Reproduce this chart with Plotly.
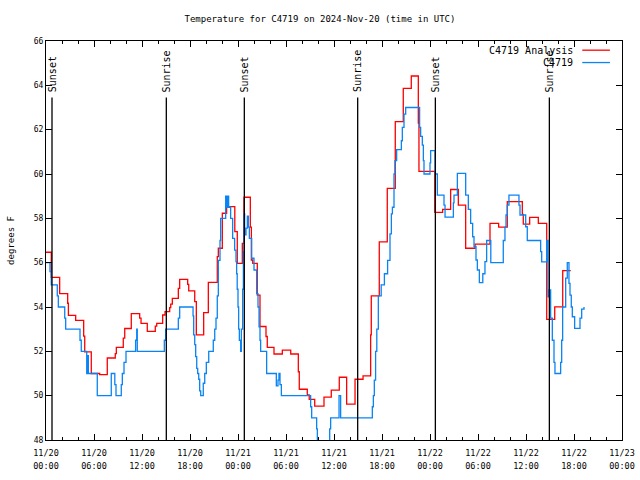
import plotly.graph_objects as go

# Analysis (red) : hours since 2024-11-20 00:00 UTC, degrees F
red_h = [0.0, 0.66, 1.71, 2.71, 2.8, 3.71, 4.71, 4.84, 5.66, 6.71, 7.66, 8.66, 8.79, 9.66, 9.84,
         10.66, 11.71, 11.88, 12.66, 13.66, 13.84, 14.58, 14.88, 15.46, 15.59, 15.79, 16.54, 16.71,
         17.71, 17.84, 18.59, 18.79, 19.71, 20.29, 21.41, 21.54, 22.04, 22.58, 23.6, 23.91, 24.54,
         24.75, 25.54, 25.67, 25.84, 26.41, 26.75, 27.5, 27.66, 28.5, 29.54, 30.59, 31.54, 31.66,
         32.66, 32.9, 33.59, 34.75, 35.66, 36.66, 37.58, 38.63, 39.63, 40.58, 40.66, 41.66, 42.66,
         43.66, 44.66, 45.66, 46.54, 46.62, 48.6, 49.58, 50.58, 51.54, 52.46, 53.63, 55.5, 56.58,
         57.66, 59.54, 59.66, 60.46, 61.54, 62.59, 63.59, 64.59, 65.59]
red_v = [56.47, 55.34, 54.6, 54.17, 53.62, 53.4, 52.69, 51.98, 51.0, 50.95, 51.7, 51.9, 52.18, 52.6,
         53.03, 53.7, 53.5, 53.26, 52.9, 53.14, 53.26, 53.64, 53.79, 53.97, 54.13, 54.39, 54.84,
         55.25, 55.02, 54.73, 54.24, 52.74, 53.75, 55.11, 56.27, 56.65, 58.23, 58.53, 57.4, 55.97,
         56.87, 58.95, 57.6, 56.12, 55.97, 54.54, 53.12, 52.67, 52.18, 51.88, 52.05, 51.88, 51.08,
         50.29, 50.03, 49.83, 49.53, 49.93, 50.25, 50.83, 49.62, 50.74, 50.89, 52.74, 54.5, 56.94,
         59.35, 62.36, 63.86, 64.42, 62.3, 60.12, 58.27, 58.4, 59.3, 58.6, 56.65, 56.84, 57.77, 57.6,
         58.75, 58.18, 57.74, 58.04, 57.77, 53.44, 54.01, 55.64, 55.64]

# Observations (blue)
blue_h = [0.0, 0.5, 0.66, 1.41, 1.54, 2.34, 2.46, 4.25, 4.41, 5.09, 5.2, 5.3, 6.41, 8.16, 8.6, 8.75,
          9.41, 9.54, 9.75, 10.0, 11.2, 11.34, 11.41, 14.79, 14.96, 16.54, 16.71, 18.38, 18.46,
          18.59, 18.71, 18.84, 18.96, 19.09, 19.21, 19.34, 19.66, 19.84, 20.04, 20.34, 20.91, 21.09,
          21.25, 21.41, 21.54, 21.75, 21.83, 22.46, 22.6, 22.7, 22.83, 23.08, 23.33, 23.58, 23.75,
          23.83, 23.9, 24.0, 24.08, 24.17, 24.33, 24.42, 24.58, 24.67, 24.75, 24.83, 25.0, 25.17,
          25.29, 25.42, 25.71, 26.0, 26.33, 26.5, 26.63, 26.75, 26.83, 27.58, 28.79, 29.0, 29.12,
          29.25, 29.42, 33.08, 33.21, 33.83, 33.92, 35.46, 35.58, 36.63, 36.83, 40.79, 40.92, 41.04,
          41.2, 41.35, 41.54, 41.9, 42.3, 42.7, 43.0, 43.17, 43.3, 43.5, 43.62, 43.83, 44.42, 44.54,
          44.75, 44.96, 46.7, 46.83, 47.04, 47.17, 47.25, 48.0, 48.08, 48.63, 48.92, 49.75, 49.88,
          50.92, 51.0, 51.42, 52.46, 52.79, 53.08, 53.33, 53.5, 53.75, 53.92, 54.17, 54.6, 54.87,
          55.08, 55.6, 57.16, 57.37, 57.5, 57.66, 57.87, 59.12, 59.25, 59.96, 60.16, 61.83, 61.96,
          62.58, 62.75, 62.91, 63.08, 63.29, 63.5, 63.62, 64.33, 64.46, 64.58, 64.96, 65.16, 65.37,
          65.5, 65.66, 65.79, 66.08, 66.75, 66.96, 67.25]
blue_v = [56.0, 55.6, 55.0, 54.5, 54.0, 53.5, 53.0, 52.5, 52.0, 51.0, 51.8, 51.0, 50.0, 51.0, 50.5,
          50.0, 50.5, 51.0, 51.5, 52.0, 52.5, 53.0, 52.0, 52.5, 53.0, 53.5, 54.0, 53.6, 52.74, 52.3,
          51.76, 51.23, 51.0, 50.74, 50.22, 50.0, 50.56, 51.0, 51.5, 52.0, 52.5, 53.0, 53.5, 54.5,
          56.1, 57.0, 58.0, 59.0, 58.5, 59.0, 58.5, 58.0, 57.1, 56.57, 56.05, 55.5, 54.8, 54.0, 53.0,
          52.5, 52.0, 53.0, 54.8, 56.5, 58.2, 57.25, 57.56, 58.1, 57.6, 57.1, 56.2, 55.67, 54.6, 54.0,
          53.1, 52.5, 52.0, 51.0, 50.44, 50.7, 51.0, 50.5, 50.0, 49.5, 49.0, 48.5, 47.5, 48.5, 49.0,
          50.0, 49.0, 49.5, 50.0, 50.7, 52.0, 53.0, 54.5, 55.0, 55.5, 56.1, 57.3, 58.2, 58.5, 60.0,
          60.6, 61.1, 61.5, 62.1, 62.7, 63.0, 62.1, 61.7, 61.3, 60.6, 60.0, 60.5, 61.05, 60.0, 59.05,
          58.6, 58.05, 58.7, 59.05, 60.03, 59.05, 58.4, 57.77, 57.17, 56.73, 56.12, 55.67, 55.1, 55.5,
          56.05, 57.0, 56.0, 57.0, 57.6, 58.15, 58.6, 59.05, 58.6, 58.15, 57.62, 57.0, 56.5, 56.04,
          57.0, 54.46, 54.77, 53.5, 52.5, 51.5, 51.0, 51.5, 52.5, 54.0, 55.3, 56.0, 55.07, 54.54,
          54.0, 53.56, 53.04, 53.5, 53.9, 54.0]

# Sun events (hours)
event_h = [0.75, 15.04, 24.79, 38.96, 48.67, 62.92]
event_label = ["Sunset", "Sunrise", "Sunset", "Sunrise", "Sunset", "Sunrise"]

tick_vals = [0, 6, 12, 18, 24, 30, 36, 42, 48, 54, 60, 66, 72]
tick_dates = ["11/20", "11/20", "11/20", "11/20", "11/21", "11/21", "11/21", "11/21",
              "11/22", "11/22", "11/22", "11/22", "11/23"]
tick_times = ["00:00", "06:00", "12:00", "18:00", "00:00", "06:00", "12:00", "18:00",
              "00:00", "06:00", "12:00", "18:00", "00:00"]

MONO = "DejaVu Sans Mono"
RED = "#ff0000"
BLUE = "#0a84f5"

fig = go.Figure()
fig.add_trace(go.Scatter(x=red_h, y=red_v, mode="lines", line=dict(color=RED, width=1.3, shape="hv"),
                         name="C4719 Analysis", showlegend=False, hoverinfo="skip"))
fig.add_trace(go.Scatter(x=blue_h, y=blue_v, mode="lines", line=dict(color=BLUE, width=1.3, shape="hv"),
                         name="C4719", showlegend=False, hoverinfo="skip"))
# helper trace so the second (time-of-day label) axis is drawn
fig.add_trace(go.Scatter(x=[tick_vals[0], tick_vals[-1]], y=[None, None], xaxis="x2", mode="lines",
                         showlegend=False, hoverinfo="skip"))

for h, lab in zip(event_h, event_label):
    fig.add_shape(type="line", xref="x", yref="y", x0=h, x1=h, y0=48, y1=63.45,
                  line=dict(color="black", width=1.3))
    fig.add_annotation(x=h, y=63.6, xref="x", yref="y", text=lab, textangle=-90, showarrow=False,
                       xanchor="center", yanchor="bottom", font=dict(family=MONO, size=10, color="black"))

# legend (gnuplot style: text right-aligned, sample line to the right)
for name, col, yp in [("C4719 Analysis", RED, 0.977), ("C4719", BLUE, 0.946)]:
    fig.add_annotation(x=0.918, y=yp, xref="paper", yref="paper", text=name, showarrow=False,
                       xanchor="right", yanchor="middle", font=dict(family=MONO, size=10, color="black"))
    fig.add_shape(type="line", xref="paper", yref="paper", x0=0.931, x1=0.979, y0=yp, y1=yp,
                  line=dict(color=col, width=1.3))

fig.update_layout(
    width=640, height=480,
    margin=dict(l=46, r=18, t=41, b=40, autoexpand=False),
    paper_bgcolor="white", plot_bgcolor="white",
    title=dict(text="Temperature for C4719 on 2024-Nov-20 (time in UTC)", x=0.5, xanchor="center",
               y=1 - 19 / 480, yanchor="middle", font=dict(family=MONO, size=9, color="black"),
               automargin=False),
    font=dict(family=MONO, size=9, color="black"),
    xaxis=dict(range=[0, 72], tickvals=tick_vals, ticktext=tick_dates, showgrid=False,
               zeroline=False, ticks="inside", ticklen=6, tickcolor="black", showline=True,
               linecolor="black", linewidth=1, mirror="ticks", ticklabelstandoff=5,
               tickfont=dict(family=MONO, size=8.5), automargin=False,
               minor=dict(dtick=2, tick0=0, ticks="inside", ticklen=3, tickcolor="black")),
    xaxis2=dict(overlaying="x", anchor="y", side="bottom", range=[0, 72], tickvals=tick_vals,
                ticktext=tick_times, showgrid=False, zeroline=False, showline=False, ticks="",
                ticklabelstandoff=19, tickfont=dict(family=MONO, size=8.5), automargin=False),
)
fig.update_yaxes(range=[48, 66], dtick=2, tick0=48, showgrid=False, zeroline=False,
                 ticks="inside", ticklen=6, tickcolor="black", showline=True, linecolor="black",
                 linewidth=1, mirror="ticks", tickfont=dict(family=MONO, size=8), automargin=False,
                 title=dict(text="degrees F", font=dict(family=MONO, size=9), standoff=17))

fig.write_html("out.html", config={"displayModeBar": False},
               post_script="document.body.style.margin='0';document.body.style.padding='0';")
